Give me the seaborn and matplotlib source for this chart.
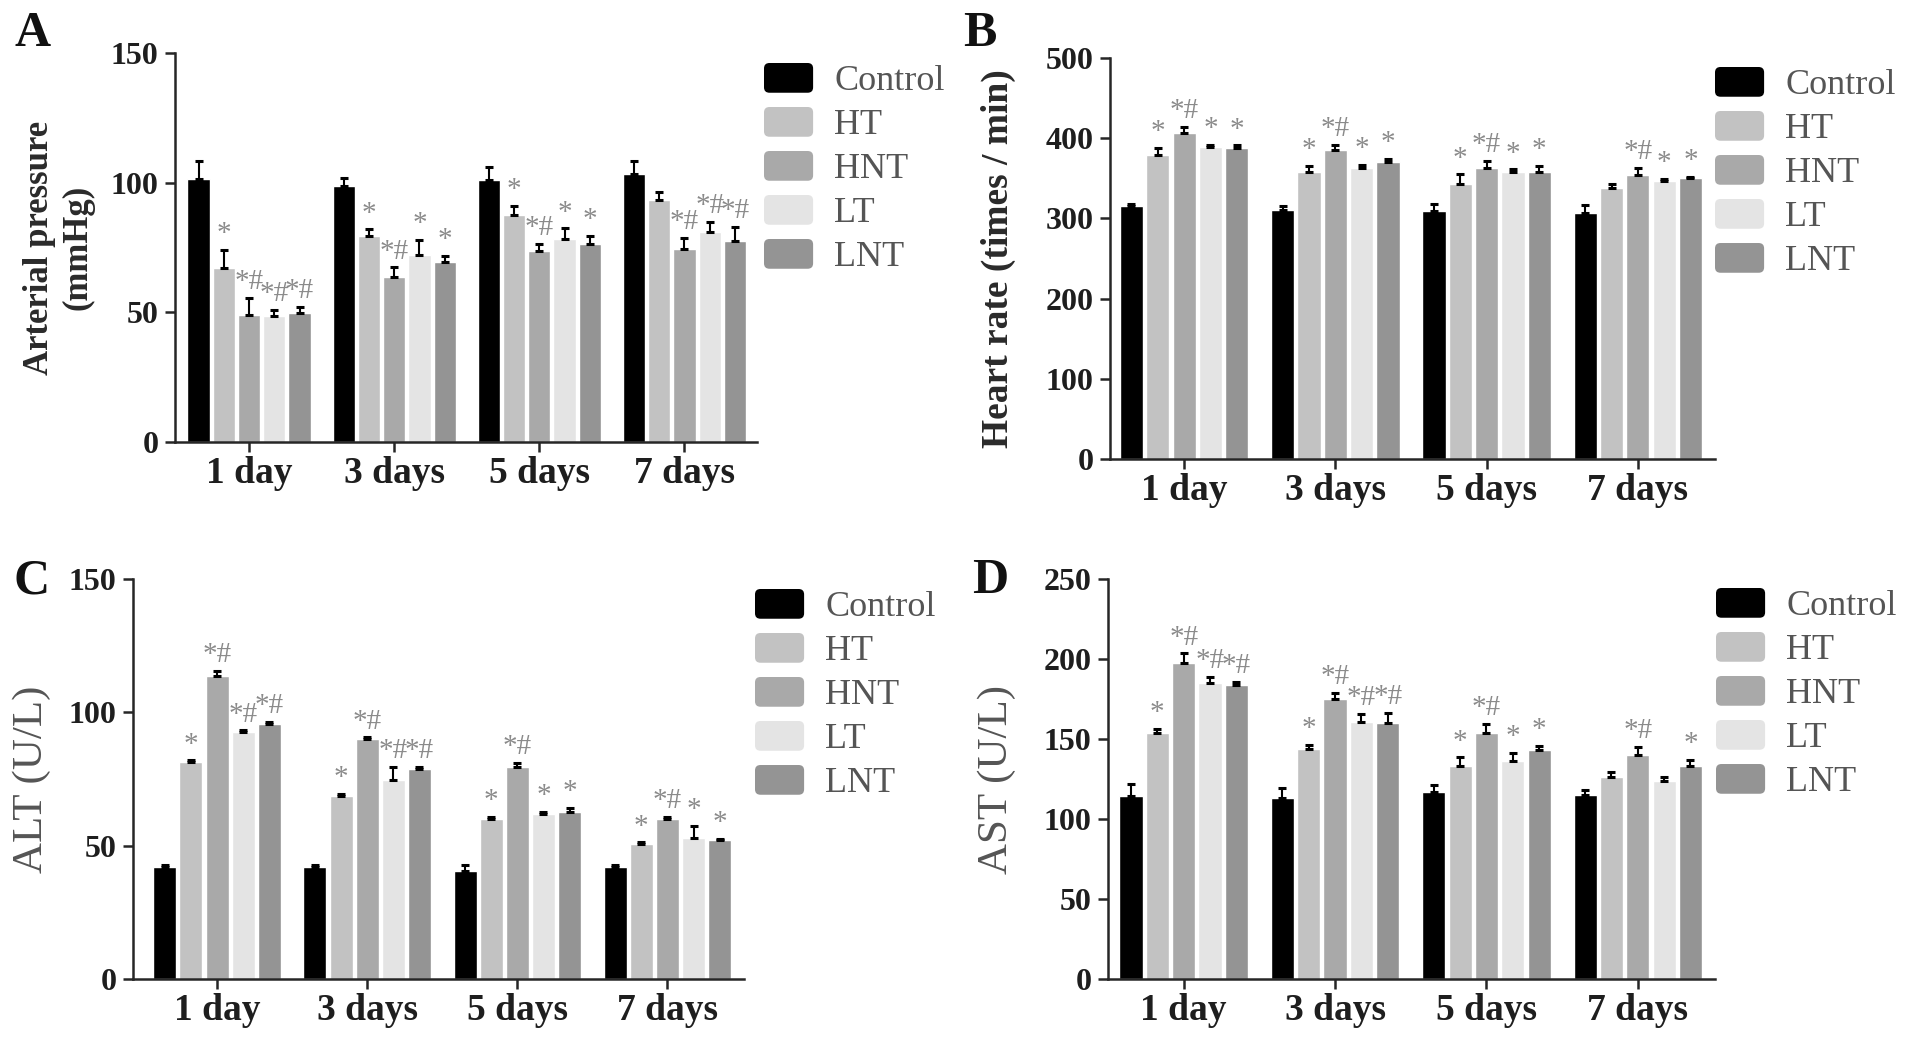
import numpy as np
import pandas as pd
import matplotlib.pyplot as plt
import seaborn as sns
from matplotlib.patches import Patch, FancyBboxPatch
from matplotlib.legend_handler import HandlerPatch

days = ['1 day', '3 days', '5 days', '7 days']
groups = ['Control', 'HT', 'HNT', 'LT', 'LNT']
colors = ['#000000', '#c2c2c2', '#a9a9a9', '#e4e4e4', '#949494']

# rows follow groups, columns follow days
bp_mean = [[101.5, 98.8, 101.0, 103.5],
           [67.0, 79.5, 87.5, 93.5],
           [49.0, 63.8, 73.8, 74.3],
           [48.5, 72.0, 78.4, 81.0],
           [49.7, 69.3, 76.3, 77.5]]
bp_err = [[7, 3, 5, 5],
          [7, 2.5, 3.5, 3],
          [6.5, 3.5, 2.5, 4.5],
          [2.5, 6, 4, 4],
          [2.5, 2.6, 3.3, 5.4]]
bp_marks = [['', '', '', ''],
            ['*', '*', '*', ''],
            ['*#', '*#', '*#', '*#'],
            ['*#', '*', '*', '*#'],
            ['*#', '*', '*', '*#']]

hr_mean = [[315, 310, 309, 307],
           [379, 357.5, 343, 338],
           [406, 385, 362.5, 354],
           [389, 363, 358, 347],
           [388, 370, 357.5, 350]]
hr_err = [[3, 5, 9, 10],
          [9, 7.5, 12, 5],
          [8, 7, 9, 9],
          [3, 4, 3, 2.5],
          [3, 4, 7.5, 2]]
hr_marks = [['', '', '', ''],
            ['*', '*', '*', ''],
            ['*#', '*#', '*#', '*#'],
            ['*', '*', '*', '*'],
            ['*', '*', '*', '*']]

alt_mean = [[41.9, 41.9, 40.6, 41.9],
            [81.4, 68.6, 60.0, 50.5],
            [113.6, 89.9, 79.4, 60.0],
            [92.5, 74.6, 61.9, 52.7],
            [95.6, 78.7, 62.7, 52.1]]
alt_err = [[0.9, 0.9, 2.1, 0.7],
           [0.6, 0.8, 0.9, 0.7],
           [2, 0.7, 1.7, 0.7],
           [0.7, 4.8, 0.7, 4.8],
           [0.9, 0.9, 1.5, 0.5]]
alt_marks = [['', '', '', ''],
             ['*', '*', '*', '*'],
             ['*#', '*#', '*#', '*#'],
             ['*#', '*#', '*', '*'],
             ['*#', '*#', '*', '*']]

ast_mean = [[114.4, 113.3, 117.0, 115.0],
            [153.5, 143.5, 133.0, 126.0],
            [197.3, 174.8, 154.0, 140.0],
            [184.8, 160.8, 136.5, 124.0],
            [184.0, 159.8, 143.0, 133.0]]
ast_err = [[7.5, 6, 4.2, 3.2],
           [2.8, 2.8, 5.5, 3.6],
           [6.2, 4.2, 5.4, 5.2],
           [4.2, 4.8, 5, 2.5],
           [1.7, 6.7, 2.6, 3.9]]
ast_marks = [['', '', '', ''],
             ['*', '*', '*', ''],
             ['*#', '*#', '*#', '*#'],
             ['*#', '*#', '*', ''],
             ['*#', '*#', '*', '*']]

W, H = 1913, 1051

sns.set_style('ticks')
plt.rcParams['font.family'] = ['Liberation Serif', 'DejaVu Serif']
plt.rcParams['axes.linewidth'] = 1.8


def round_box(legend, orig_handle, xdescent, ydescent, width, height, fontsize):
    return FancyBboxPatch((-xdescent, -ydescent), width, height,
                          boxstyle='round,pad=0,rounding_size=%.1f' % (0.18 * height))


def draw_panel(fig, rect, letter, letter_xy, mean, err, marks, ylabel, ylabel_style,
               ymax, ystep, xlim, label_x, legend_xy):
    l, r, t, b = rect
    ax = fig.add_axes([l / W, 1 - b / H, (r - l) / W, (b - t) / H])
    df = pd.DataFrame([(g, d, mean[i][j]) for i, g in enumerate(groups)
                       for j, d in enumerate(days)], columns=['group', 'day', 'value'])
    sns.barplot(data=df, x='day', y='value', hue='group', order=days, hue_order=groups,
                palette=colors, saturation=1, width=0.87, gap=0.12, errorbar=None,
                legend=False, ax=ax)
    bar_sets = list(ax.containers)
    for i, cont in enumerate(bar_sets):
        xs = [p.get_x() + p.get_width() / 2 for p in cont]
        ys = [p.get_height() for p in cont]
        ax.errorbar(xs, ys, yerr=[np.zeros(len(xs)), err[i]], fmt='none', ecolor='black',
                    elinewidth=1.5, capsize=3.2, capthick=2.2, zorder=3)
        for x, y, e, m in zip(xs, ys, err[i], marks[i]):
            if m:
                ax.annotate(m, (x, y + e), xytext=(0, 2), textcoords='offset points',
                            ha='center', va='bottom', fontsize=21, color='#8a8a8a')

    ax.set_xlim(*xlim)
    ax.set_ylim(0, ymax)
    ax.set_yticks(np.arange(0, ymax + 1, ystep))
    ax.set_xlabel('')
    ax.set_ylabel(ylabel, **ylabel_style)
    ax.yaxis.set_label_coords(label_x, 0.5)
    ax.tick_params(axis='y', length=7, width=1.8, pad=5, labelsize=23, labelcolor='#1e1e1e')
    ax.tick_params(axis='x', length=7, width=1.8, pad=3, labelsize=27, labelcolor='#1e1e1e')
    for lab in ax.get_xticklabels() + ax.get_yticklabels():
        lab.set_fontweight('bold')
    sns.despine(ax=ax)

    handles = [Patch(facecolor=c, edgecolor='none') for c in colors]
    ax.legend(handles, groups, handler_map={Patch: HandlerPatch(patch_func=round_box)},
              loc='upper left', bbox_to_anchor=(legend_xy[0] / W, 1 - legend_xy[1] / H),
              bbox_transform=fig.transFigure, frameon=False, fontsize=26,
              handlelength=1.36, handleheight=0.89, handletextpad=0.58,
              labelspacing=0.24, borderpad=0, borderaxespad=0, labelcolor='#555555')

    fig.text(letter_xy[0] / W, 1 - letter_xy[1] / H, letter, fontsize=36,
             fontweight='bold', va='baseline', ha='left', color='#111111')
    return ax


bold_label = dict(fontsize=25, fontweight='bold', color='#2a2a2a')
hr_label = dict(fontsize=27, fontweight='bold', color='#2a2a2a')
plain_label = dict(fontsize=31, fontweight='normal', color='#555555')

fig = plt.figure(figsize=(W / 100, H / 100), dpi=100)

draw_panel(fig, (175, 757, 53, 442), 'A', (15, 46), bp_mean, bp_err, bp_marks,
           'Arterial pressure\n(mmHg)', bold_label, 150, 50, (-0.51, 3.5), -0.139, (764, 63))
draw_panel(fig, (1110, 1715, 58, 459), 'B', (963, 46), hr_mean, hr_err, hr_marks,
           'Heart rate (times / min)', hr_label, 500, 100, (-0.49, 3.51), -0.155, (1715, 67))
draw_panel(fig, (133, 744, 579, 979), 'C', (13, 593), alt_mean, alt_err, alt_marks,
           'ALT (U/L)', plain_label, 150, 50, (-0.56, 3.51), -0.134, (755, 589))
draw_panel(fig, (1108, 1715, 579, 979), 'D', (972, 593), ast_mean, ast_err, ast_marks,
           'AST (U/L)', plain_label, 250, 50, (-0.5, 3.51), -0.152, (1716, 588))

fig.savefig('out.png', dpi=100)
plt.close(fig)
